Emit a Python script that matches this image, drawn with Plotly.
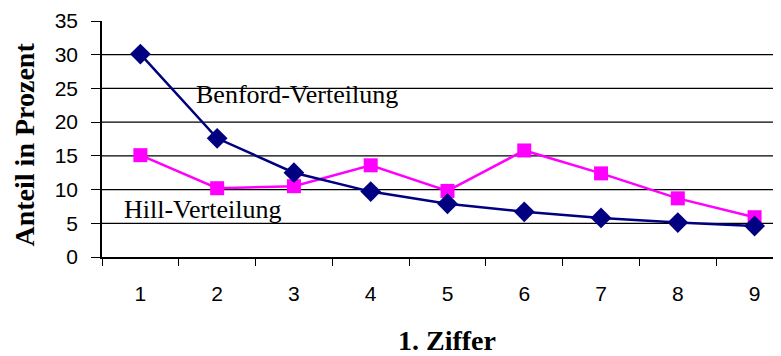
import plotly.graph_objects as go

digits = ["1", "2", "3", "4", "5", "6", "7", "8", "9"]
benford = [30.1, 17.6, 12.5, 9.7, 7.9, 6.7, 5.8, 5.1, 4.6]
hill = [15.1, 10.2, 10.5, 13.6, 9.8, 15.8, 12.4, 8.7, 5.9]
y_ticks = [0, 5, 10, 15, 20, 25, 30, 35]
grid_vals = [5, 10, 15, 20, 25, 30]

fig = go.Figure()
fig.add_trace(go.Scatter(
    x=digits, y=hill, mode="lines+markers", name="Hill-Verteilung",
    line=dict(color="#FF00FF", width=2.5),
    marker=dict(symbol="square", size=14, color="#FF00FF"),
))
fig.add_trace(go.Scatter(
    x=digits, y=benford, mode="lines+markers", name="Benford-Verteilung",
    line=dict(color="#000080", width=2.5),
    marker=dict(symbol="diamond", size=16, color="#000080"),
))

for g in grid_vals:
    fig.add_shape(type="line", xref="paper", yref="y", x0=0, x1=1, y0=g, y1=g,
                  line=dict(color="#000000", width=1.3), layer="below")

fig.add_annotation(text="Benford-Verteilung", xref="paper", yref="paper",
                   x=0.1355, y=0.69, xanchor="left", yanchor="middle", showarrow=False,
                   font=dict(family="Liberation Serif", size=26, color="#000000"))
fig.add_annotation(text="Hill-Verteilung", xref="paper", yref="paper",
                   x=0.0295, y=0.2, xanchor="left", yanchor="middle", showarrow=False,
                   font=dict(family="Liberation Serif", size=26, color="#000000"))
fig.add_annotation(text="<b>1. Ziffer</b>", xref="paper", yref="paper",
                   x=0.5087, y=-0.355, xanchor="center", yanchor="middle", showarrow=False,
                   font=dict(family="Liberation Serif", size=28, color="#000000"))
fig.add_annotation(text="<b>Anteil in Prozent</b>", xref="paper", yref="paper",
                   x=-0.114, y=0.475, xanchor="center", yanchor="middle", showarrow=False,
                   textangle=-90, borderpad=0,
                   font=dict(family="Liberation Serif", size=28, color="#000000"))

# page body has an 8px default margin, so the figure is 8px smaller on each axis
fig.update_layout(
    width=773, height=348,
    margin=dict(l=94, r=0, t=13, b=99, autoexpand=False),
    paper_bgcolor="white", plot_bgcolor="white",
    showlegend=False,
    xaxis=dict(type="category", range=[-0.5, 8.344], tickson="boundaries",
               showgrid=False, showline=True, linecolor="#000000", linewidth=1.5,
               ticks="outside", ticklen=7, tickwidth=1.2, tickcolor="#000000",
               tickfont=dict(family="Liberation Sans", size=21, color="#000000"),
               ticklabelstandoff=17, zeroline=False),
    yaxis=dict(range=[0, 35], tickvals=y_ticks, showgrid=False, zeroline=False,
               showline=True, linecolor="#000000", linewidth=1.5,
               ticks="outside", ticklen=9, tickwidth=1.2, tickcolor="#000000",
               tickfont=dict(family="Liberation Sans", size=21, color="#000000"),
               ticklabelstandoff=9),
)

fig.write_html("out.html")
